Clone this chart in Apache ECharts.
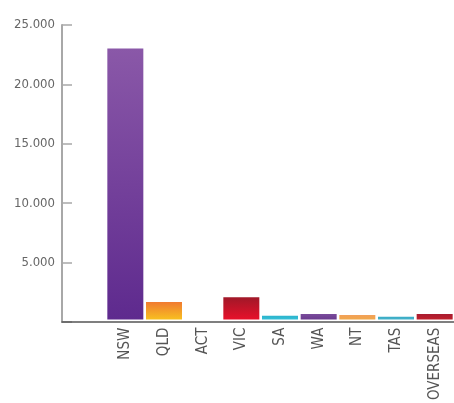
<!DOCTYPE html>
<html>
<head>
<meta charset="utf-8">
<script src="https://cdn.jsdelivr.net/npm/echarts@6/dist/echarts.min.js"></script>
<style>
  html, body { margin: 0; padding: 0; background: #fff; }
  #chart { width: 454px; height: 403px; }
</style>
</head>
<body>
<div id="chart"></div>
<script>
// Visitors by state of origin
const categories = ['NSW', 'QLD', 'ACT', 'VIC', 'SA', 'WA', 'NT', 'TAS', 'OVERSEAS'];
const values = [23000, 1500, 0, 1900, 320, 480, 400, 240, 480];
const yTicks = [0, 5000, 10000, 15000, 20000, 25000];

// top / bottom colours for each bar
const barTop = ['#8a58a8', '#f07a30', '#888888', '#a01828', '#2cb4cc', '#7a4c9c', '#f2a05a', '#3aaac4', '#a81c30'];
const barBottom = ['#5e2a8e', '#f8c020', '#888888', '#e8102a', '#34c0d8', '#6a3a8e', '#f0a848', '#46b4cc', '#c0202c'];

const FONT = '"Liberation Sans Narrow", "DejaVu Sans Condensed", sans-serif';

const chart = echarts.init(document.getElementById('chart'), null, { renderer: 'canvas' });

const data = values.map((v, i) => ({
  value: v,
  itemStyle: {
    color: new echarts.graphic.LinearGradient(0, 0, 0, 1, [
      { offset: 0, color: barTop[i] },
      { offset: 1, color: barBottom[i] }
    ])
  }
}));

chart.setOption({
  animation: false,
  grid: [
    // frame grid: carries the value axis and the full-width baseline
    { left: 62, right: -3, top: 25, bottom: 81 },
    // bar grid
    { left: 106, right: -3, top: 25, bottom: 81 }
  ],
  xAxis: [
    {
      gridIndex: 0, type: 'value', min: 0, max: 1, z: 5,
      axisLine: { show: true, onZero: false, lineStyle: { color: '#555', width: 1.5 } },
      axisTick: { show: false }, axisLabel: { show: false }, splitLine: { show: false }
    },
    {
      gridIndex: 1, type: 'category', data: categories,
      axisLine: { show: false }, axisTick: { show: false },
      axisLabel: {
        rotate: 90, margin: 8, interval: 0,
        color: '#555', fontFamily: FONT, fontSize: 15
      }
    }
  ],
  yAxis: [
    {
      gridIndex: 0, type: 'value',
      min: yTicks[0], max: yTicks[yTicks.length - 1], interval: yTicks[1] - yTicks[0],
      axisLine: { show: true, onZero: false, lineStyle: { color: '#a8a8a8', width: 2 } },
      axisTick: { show: true, inside: true, length: 10, lineStyle: { color: '#a8a8a8', width: 1.5 } },
      splitLine: { show: false },
      axisLabel: {
        margin: 7, color: '#666', fontFamily: FONT, fontSize: 13,
        formatter: v => v === 0 ? '' : v.toLocaleString('de-DE')
      }
    },
    {
      gridIndex: 1, type: 'value',
      min: yTicks[0], max: yTicks[yTicks.length - 1],
      show: false, splitLine: { show: false }
    }
  ],
  series: [{
    type: 'bar',
    xAxisIndex: 1, yAxisIndex: 1,
    data: data,
    barWidth: 36
  }]
});
</script>
</body>
</html>
